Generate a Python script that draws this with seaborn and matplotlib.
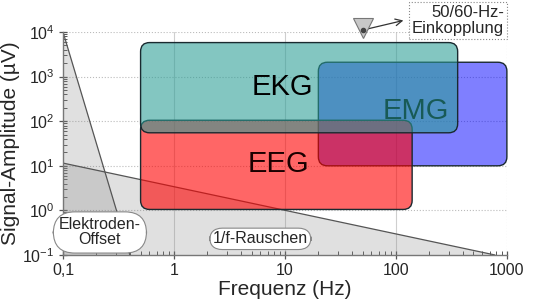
import numpy as np
import pandas as pd
import matplotlib
matplotlib.use("Agg")
import matplotlib.pyplot as plt
import seaborn as sns
from matplotlib.patches import FancyBboxPatch, Polygon
from matplotlib.ticker import FixedLocator, LogLocator, NullFormatter

# ---- data ----
signals = ["EMG", "EEG", "EKG"]
f_low = [20, 0.5, 0.5]
f_high = [1000, 140, 360]
amp_low = [10, 1.05, 55]
amp_high = [2100, 105, 5800]
fill_colors = ["#0000ff", "#ff0000", "#2a9d95"]
fill_alpha = [0.5, 0.6, 0.58]
text_colors = ["#000000", "#1a0000", "#000000"]
label_pos_f = [150, 8.7, 9.4]
label_pos_a = [170, 11, 600]

offset_f = [0.1, 0.4]
offset_a = [1e4, 0.1]
noise_f = [0.1, 780]
noise_a = [11.5, 0.1]

xticks = [0.1, 1, 10, 100, 1000]
xticklabels = ["0,1", "1", "10", "100", "1000"]
yticks = [0.1, 1, 10, 100, 1000, 10000]
yticklabels = [r"$10^{-1}$", r"$10^{0}$", r"$10^{1}$", r"$10^{2}$", r"$10^{3}$", r"$10^{4}$"]

mains_f = 50
mains_a = 1.2e4

sns.set_theme(style="white")
plt.rcParams["font.family"] = ["Liberation Sans", "DejaVu Sans"]
plt.rcParams["mathtext.fontset"] = "custom"
plt.rcParams["mathtext.rm"] = "Liberation Sans"
plt.rcParams["mathtext.it"] = "Liberation Sans"

fig = plt.figure(figsize=(5.4, 3.05), dpi=100)
ax = fig.add_axes([0.1167, 0.164, 0.822, 0.731])
ax.set_xscale("log")
ax.set_yscale("log")
ax.set_xlim(0.1, 1000)
ax.set_ylim(0.1, 10000)

# grid
for v in [1, 10, 100]:
    ax.axvline(v, color="#cfcfcf", lw=0.8, zorder=0.5)
ax.axvline(1000, color="#bbbbbb", lw=0.8, ls=":", zorder=0.5)
for v in [1, 10, 100, 1000, 10000]:
    ax.axhline(v, color="#bbbbbb", lw=0.8, ls=":", zorder=0.5)

# noise regions
gray = "#888888"
ax.add_patch(Polygon([(offset_f[0], offset_a[0]), (offset_f[1], offset_a[1]), (offset_f[0], offset_a[1])],
                     closed=True, facecolor=gray, alpha=0.26, edgecolor="none", zorder=1))
ax.add_patch(Polygon([(noise_f[0], noise_a[0]), (noise_f[1], noise_a[1]), (noise_f[0], noise_a[1])],
                     closed=True, facecolor=gray, alpha=0.26, edgecolor="none", zorder=1))
lines = pd.DataFrame({"f": offset_f + noise_f, "a": offset_a + noise_a,
                      "src": ["off", "off", "noise", "noise"]})
sns.lineplot(data=lines, x="f", y="a", units="src", estimator=None, color="#555555",
             lw=0.9, ax=ax, zorder=1.5, legend=False)

# rounded rectangles in axes coordinates
fig.canvas.draw()
bbox = ax.get_window_extent()
aspect = bbox.width / bbox.height
to_ax = ax.transData + ax.transAxes.inverted()
r = 9 / bbox.width
for i, name in enumerate(signals):
    (x0, y0) = to_ax.transform((f_low[i], amp_low[i]))
    (x1, y1) = to_ax.transform((f_high[i], amp_high[i]))
    z = 2 + i
    p = FancyBboxPatch((x0, y0), x1 - x0, y1 - y0,
                       boxstyle=f"round,pad=0,rounding_size={r}",
                       mutation_aspect=aspect,
                       transform=ax.transAxes, facecolor=fill_colors[i],
                       alpha=fill_alpha[i], edgecolor="none", zorder=z, clip_on=False)
    ax.add_patch(p)
    pe = FancyBboxPatch((x0, y0), x1 - x0, y1 - y0,
                        boxstyle=f"round,pad=0,rounding_size={r}",
                        mutation_aspect=aspect,
                        transform=ax.transAxes, facecolor="none",
                        edgecolor="#1a2a30", lw=1.0, zorder=z, clip_on=False)
    ax.add_patch(pe)
    ax.text(label_pos_f[i], label_pos_a[i], name, fontsize=21, color=text_colors[i],
            ha="center", va="center", zorder=z + 0.1)

# annotations
ax.text(0.215, 0.32, "Elektroden-\nOffset", fontsize=11.5, ha="center", va="center",
        linespacing=1.0, zorder=6,
        bbox=dict(boxstyle="round,pad=0.35,rounding_size=1.35", fc="white", ec="#888888", lw=0.8))
ax.text(6.0, 0.23, "1/f-Rauschen", fontsize=11.5, ha="center", va="center", zorder=6,
        bbox=dict(boxstyle="round,pad=0.2,rounding_size=0.8", fc="white", ec="#888888", lw=0.8))

ax.plot([mains_f], [mains_a], marker="v", ms=15, mfc="#c8c8c8", mec="#777777", mew=0.8,
        clip_on=False, zorder=7)
ax.plot([mains_f], [mains_a * 0.92], marker="o", ms=3, color="#444444", clip_on=False, zorder=8)
fig.text(0.933, 0.932, "50/60-Hz-\nEinkopplung", fontsize=12, ha="right", va="center",
         linespacing=1.05,
         bbox=dict(boxstyle="square,pad=0.18", fc="white", ec="#888888", lw=0.8, ls=":"))
ax.annotate("", xy=(0.752, 0.935), xycoords="figure fraction",
            xytext=(mains_f, mains_a * 0.92), textcoords="data",
            arrowprops=dict(arrowstyle="->", color="#333333", lw=0.9), annotation_clip=False)

# axes styling
for s in ["top", "right"]:
    ax.spines[s].set_visible(False)
for s in ["left", "bottom"]:
    ax.spines[s].set_color("#777777")
    ax.spines[s].set_linewidth(1.0)
ax.xaxis.set_major_locator(FixedLocator(xticks))
ax.set_xticklabels(xticklabels)
ax.yaxis.set_major_locator(FixedLocator(yticks))
ax.set_yticklabels(yticklabels)
ax.xaxis.set_minor_locator(LogLocator(base=10, subs=np.arange(2, 10)))
ax.yaxis.set_minor_locator(LogLocator(base=10, subs=np.arange(2, 10)))
ax.xaxis.set_minor_formatter(NullFormatter())
ax.yaxis.set_minor_formatter(NullFormatter())
ax.tick_params(which="major", direction="inout", length=6, width=0.9, color="#555555",
               labelsize=11.5, bottom=True, left=True, pad=3)
ax.tick_params(which="minor", direction="in", length=3, width=0.7, color="#555555",
               bottom=True, left=True)
ax.set_xlabel("Frequenz (Hz)", fontsize=15, labelpad=1)
ax.set_ylabel("Signal-Amplitude (µV)", fontsize=15, labelpad=2)

fig.savefig("out.png", dpi=100)
